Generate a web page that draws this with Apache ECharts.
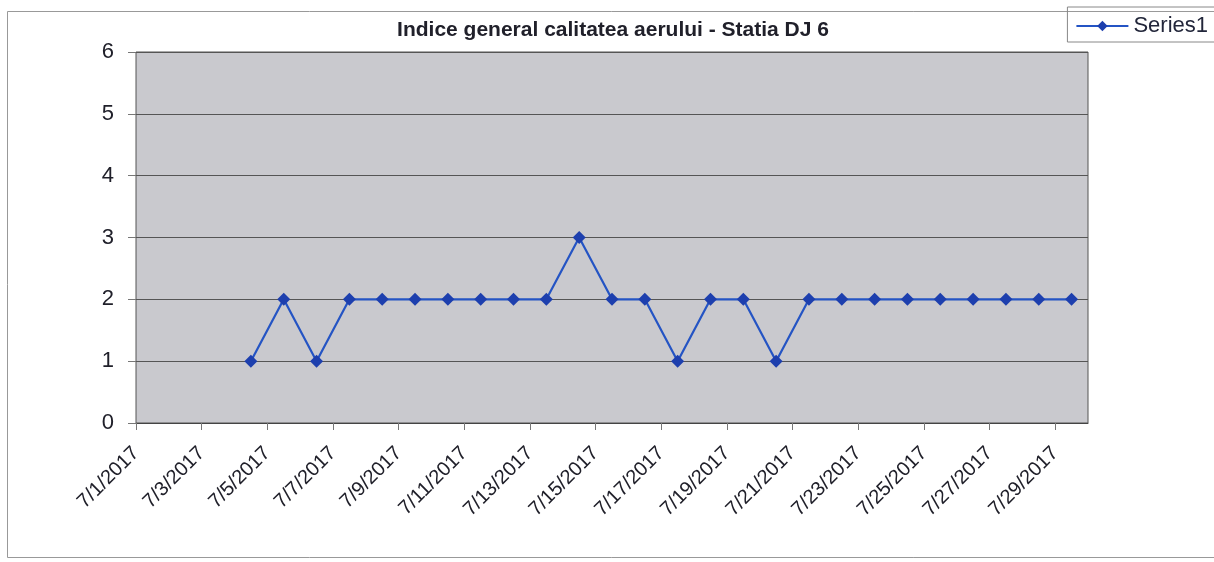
<!DOCTYPE html>
<html>
<head>
<meta charset="utf-8">
<script src="https://cdn.jsdelivr.net/npm/echarts@6/dist/echarts.min.js"></script>
<style>html,body{margin:0;padding:0;background:#fff}#c{width:1214px;height:562px}</style>
</head>
<body>
<div id="c"></div>
<script>
// Tick label axis: day boundaries 7/1 ... 7/30
var tickDates = ['7/1/2017','7/2/2017','7/3/2017','7/4/2017','7/5/2017','7/6/2017','7/7/2017','7/8/2017','7/9/2017','7/10/2017',
  '7/11/2017','7/12/2017','7/13/2017','7/14/2017','7/15/2017','7/16/2017','7/17/2017','7/18/2017','7/19/2017','7/20/2017',
  '7/21/2017','7/22/2017','7/23/2017','7/24/2017','7/25/2017','7/26/2017','7/27/2017','7/28/2017','7/29/2017','7/30/2017'];
// Data categories: one per day 7/1 ... 7/29
var dayCategories = ['7/1/2017','7/2/2017','7/3/2017','7/4/2017','7/5/2017','7/6/2017','7/7/2017','7/8/2017','7/9/2017','7/10/2017',
  '7/11/2017','7/12/2017','7/13/2017','7/14/2017','7/15/2017','7/16/2017','7/17/2017','7/18/2017','7/19/2017','7/20/2017',
  '7/21/2017','7/22/2017','7/23/2017','7/24/2017','7/25/2017','7/26/2017','7/27/2017','7/28/2017','7/29/2017'];
var series1 = [null,null,null,1,2,1,2,2,2,2,2,2,2,3,2,2,1,2,2,1,2,2,2,2,2,2,2,2,2];
var yTicks = [0,1,2,3,4,5,6];

var FONT = 'Liberation Sans, Arial, sans-serif';
var chart = echarts.init(document.getElementById('c'));
chart.setOption({
  backgroundColor: '#ffffff',
  animation: false,
  title: {
    text: 'Indice general calitatea aerului - Statia DJ 6',
    left: 608, top: 15, textAlign: 'center',
    textStyle: {fontFamily: FONT, fontWeight: 'bold', fontSize: 21, color: '#20202a'}
  },
  legend: {
    right: -4, top: 7,
    data: ['Series1'],
    itemWidth: 52, itemHeight: 13, itemGap: 6,
    padding: [8, 10, 5, 8],
    borderColor: '#888', borderWidth: 1,
    textStyle: {fontFamily: FONT, fontSize: 22, color: '#22263a'}
  },
  graphic: [{
    type: 'rect', shape: {x: 7.5, y: 11.5, width: 1230, height: 546},
    style: {fill: 'none', stroke: '#999', lineWidth: 1}, z: -1
  }],
  grid: {
    left: 136, right: 126, top: 52, bottom: 139,
    show: true, backgroundColor: '#c9c9ce', borderColor: '#555', borderWidth: 1
  },
  xAxis: [{
    type: 'category', data: tickDates, boundaryGap: false, position: 'bottom',
    axisLine: {show: true, lineStyle: {color: '#444', width: 1}},
    axisTick: {show: true, interval: 1, length: 7, lineStyle: {color: '#777'}},
    axisLabel: {interval: 1, rotate: 45, margin: 27, fontFamily: FONT, fontSize: 20, color: '#20202a'},
    splitLine: {show: false}
  }, {
    type: 'category', data: dayCategories, boundaryGap: true, position: 'bottom', show: false
  }],
  yAxis: {
    type: 'value', min: yTicks[0], max: yTicks[yTicks.length - 1], interval: 1,
    axisLine: {show: false},
    axisTick: {show: true, length: 8, lineStyle: {color: '#777'}},
    axisLabel: {margin: 22, fontFamily: FONT, fontSize: 22, color: '#20202a'},
    splitLine: {show: true, lineStyle: {color: '#555', width: 1}}
  },
  series: [{
    name: 'Series1', type: 'line', xAxisIndex: 1,
    data: series1, connectNulls: false,
    symbol: 'diamond', symbolSize: 13,
    lineStyle: {color: '#2454c4', width: 2.2},
    itemStyle: {color: '#1d3fae'}
  }]
});
</script>
</body>
</html>
